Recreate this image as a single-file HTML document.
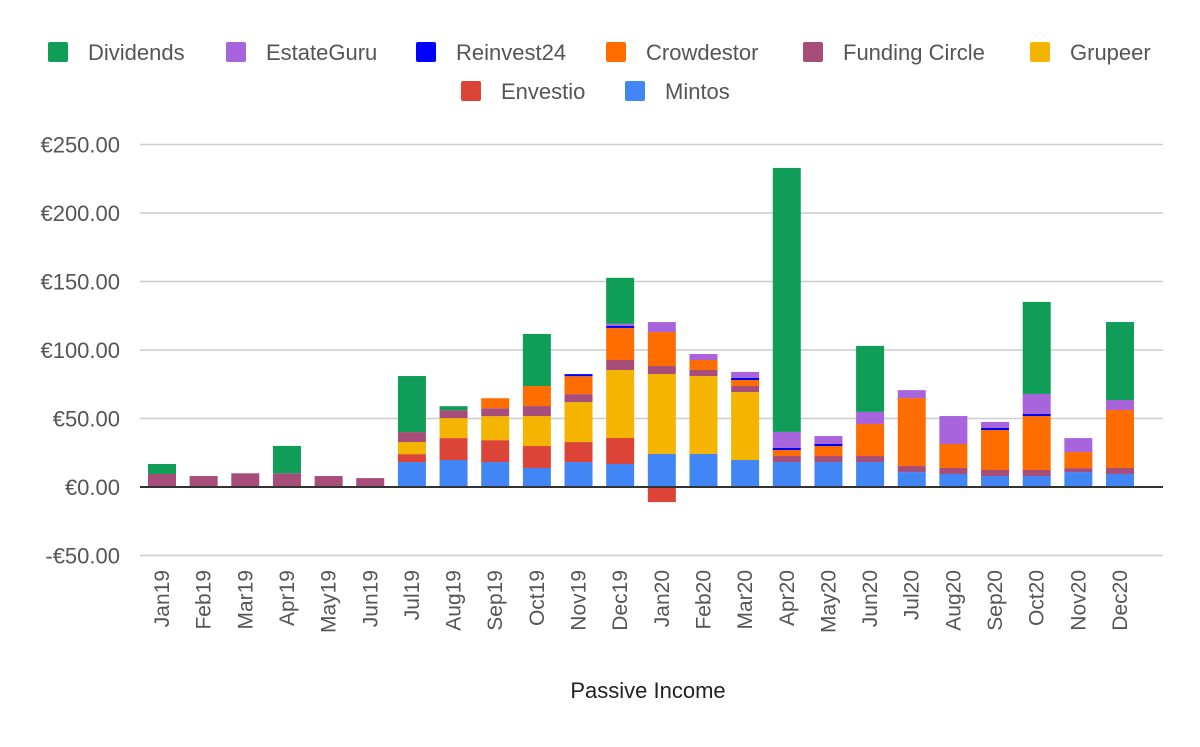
<!DOCTYPE html>
<html><head><meta charset="utf-8"><style>
body{margin:0;background:#fff;}
svg text{font-family:"Liberation Sans",Roboto,sans-serif;}
</style></head><body>
<svg id="chart" width="1200" height="742">
<g id="grid"></g>
<g id="bars"></g>
<g id="axes"></g>
<g id="legend"></g>
<text x="648" y="698" text-anchor="middle" font-size="22" fill="#222">Passive Income</text>
</svg>
<script>
const months=["Jan19","Feb19","Mar19","Apr19","May19","Jun19","Jul19","Aug19","Sep19","Oct19","Nov19","Dec19","Jan20","Feb20","Mar20","Apr20","May20","Jun20","Jul20","Aug20","Sep20","Oct20","Nov20","Dec20"];
const mintos=[0,0,0,0,0,0,18.2,19.7,18.2,13.9,18.2,16.8,24.1,24.1,19.7,18.2,18.2,18.2,10.9,9.5,8,8,10.9,9.5];
const envestio=[0,0,0,0,0,0,5.8,16,16,16,14.6,19,-11,0,0,0,0,0,0,0,0,0,0,0];
const grupeer=[0,0,0,0,0,0,8.8,14.6,17.5,21.9,29.2,49.6,58.4,56.9,49.6,0,0,0,0,0,0,0,0,0];
const fundingCircle=[9.5,8,10,10,8,6.5,7.3,5.8,5.8,7.3,5.8,7.3,5.8,4.4,4.4,4.4,4.4,4.4,4.4,4.4,4.4,4.4,2.9,4.4];
const crowdestor=[0,0,0,0,0,0,0,0,7.3,14.6,13.1,23.4,24.8,7.3,4.4,4.4,7.3,23.4,49.6,17.5,29.2,39.4,11.7,42.3];
const reinvest24=[0,0,0,0,0,0,0,0,0,0,1.5,1.5,0,0,1.5,1.5,1.5,0,0,0,1.5,1.5,0,0];
const estateGuru=[0,0,0,0,0,0,0,0,0,0,0,1.5,7.3,4.4,4.4,11.7,5.8,8.8,5.8,20.4,4.4,14.6,10.2,7.3];
const dividends=[7.3,0,0,20,0,0,40.9,2.9,0,38,0,33.6,0,0,0,192.7,0,48.2,0,0,0,67.2,0,56.9];
const yTicks=[-50,0,50,100,150,200,250];
const seriesNames=["Dividends","EstateGuru","Reinvest24","Crowdestor","Funding Circle","Grupeer","Envestio","Mintos"];
const colors={"Mintos":"#4285f4","Envestio":"#db4437","Grupeer":"#f4b400","Funding Circle":"#a64d79","Crowdestor":"#ff6d01","Reinvest24":"#0000ff","EstateGuru":"#a864dd","Dividends":"#109d58"};
const stackOrder=[["Mintos",mintos],["Envestio",envestio],["Grupeer",grupeer],["Funding Circle",fundingCircle],["Crowdestor",crowdestor],["Reinvest24",reinvest24],["EstateGuru",estateGuru],["Dividends",dividends]];
const NS="http://www.w3.org/2000/svg";
const y0=487, pxPer=68.5/50, xFirst=162, step=(1120-162)/23, bw=28;
const yS=v=>y0-v*pxPer;
const xS=i=>xFirst+i*step;
function mk(tag,attrs,parent){const e=document.createElementNS(NS,tag);for(const k in attrs)e.setAttribute(k,attrs[k]);parent.appendChild(e);return e;}
const grid=document.getElementById('grid'),bars=document.getElementById('bars'),axes=document.getElementById('axes'),legend=document.getElementById('legend');
yTicks.forEach(t=>{
 if(t!==0){const l=mk('line',{x1:140,x2:1163,y1:yS(t),y2:yS(t),stroke:'#ccc','stroke-width':1.5},grid);
 
 }
 const tx=mk('text',{x:120,y:yS(t)+8,'text-anchor':'end','font-size':22,fill:'#555'},axes);
 tx.textContent=(t<0?'-€':'€')+Math.abs(t).toFixed(2);
 
 
});
months.forEach((m,i)=>{
 let pos=0,neg=0;
 stackOrder.forEach(([name,arr])=>{
  const v=arr[i]; if(!v) return;
  let a,b;
  if(v>0){a=pos;b=pos+v;pos=b;}else{a=neg+v;b=neg;neg=a;}
  const r=mk('rect',{x:xS(i)-bw/2,y:yS(b),width:bw,height:yS(a)-yS(b),fill:colors[name]},bars);
  
  
 });
 const tx=mk('text',{x:0,y:0,'text-anchor':'end','font-size':21,fill:'#555',transform:`translate(${xS(i)+7},570) rotate(-90)`},axes);
 tx.textContent=m;
 
 
});
const zl=mk('line',{x1:140,x2:1163,y1:y0,y2:y0,stroke:'#333','stroke-width':2},axes);


const row1=[["Dividends",48],["EstateGuru",226],["Reinvest24",416],["Crowdestor",606],["Funding Circle",803],["Grupeer",1030]];
const row2=[["Envestio",461],["Mintos",625]];
[[row1,52],[row2,91]].forEach(([row,yy])=>row.forEach(([name,x])=>{
 const g=mk('g',{},legend);
 
 
 mk('rect',{x:x,y:yy-10,width:20,height:20,rx:2,fill:colors[name]},g);
 const t=mk('text',{x:x+40,y:yy+8,'font-size':22,fill:'#555'},g);
 t.textContent=name;
}));
</script>
</body></html>
